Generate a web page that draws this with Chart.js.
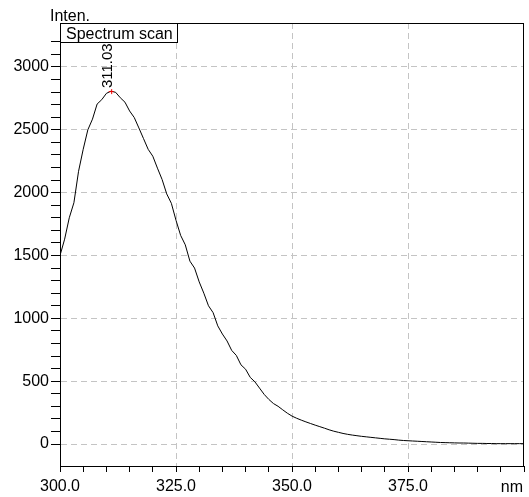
<!DOCTYPE html>
<html>
<head>
<meta charset="utf-8">
<script src="https://cdn.jsdelivr.net/npm/chart.js@4"></script>
<style>
  body { margin: 0; background: #fff; }
  canvas { display: block; }
</style>
</head>
<body>
<canvas id="myChart" width="529" height="497"></canvas>
<script>
// wavelength (nm) and intensity
let wavelengths = [];
for (let nm = 300; nm <= 400; nm++) wavelengths.push(nm);

let intensity = [
  1500, 1630, 1800, 1920, 2170, 2345, 2500, 2585, 2705, 2740,
  2790, 2808, 2798, 2755, 2720, 2650, 2598, 2515, 2430, 2345,
  2290, 2195, 2105, 1990, 1915, 1780, 1660, 1585, 1455, 1400,
  1290, 1200, 1100, 1045, 940, 875, 820, 745, 705, 630,
  595, 530, 495, 445, 395, 355, 322, 300, 272, 245,
  222, 205, 190, 176, 163, 150, 138, 126, 113, 102,
  93, 84, 77, 71, 66, 61, 57, 53, 49, 45,
  41, 38, 35, 31, 28, 26, 24, 22, 20, 18,
  16, 14, 12, 11, 10, 9, 8, 8, 7, 6,
  5, 5, 4, 4, 3, 3, 3, 3, 3, 3, 3
];

let seriesName = "Spectrum scan";
let peakNm = 311.03;
let peakValue = 2808;
let peakLabel = "311.03";
let xTitle = "nm";
let yTitle = "Inten.";

let points = [];
for (let i = 0; i < wavelengths.length; i++) {
    points.push({ x: wavelengths[i], y: intensity[i] });
}

const FAMILY = "'Liberation Sans', Arial, sans-serif";
Chart.defaults.font.family = FAMILY;
Chart.defaults.font.size = 16;
Chart.defaults.color = "#000";

// 테두리, 범례 상자, 피크 표시
const extras = {
    id: "extras",
    afterDraw(chart) {
        const ctx = chart.ctx;
        const a = chart.chartArea;
        const xs = chart.scales.x;
        const ys = chart.scales.y;
        ctx.save();
        ctx.strokeStyle = "#000";
        ctx.lineWidth = 1;
        ctx.strokeRect(Math.round(a.left) + 0.5, Math.round(a.top) + 0.5,
            Math.round(a.right - a.left) - 1, Math.round(a.bottom - a.top));

        // legend box
        ctx.font = "16px " + FAMILY;
        ctx.fillStyle = "#fff";
        ctx.fillRect(a.left, a.top, 118, 19);
        ctx.strokeRect(Math.round(a.left) + 0.5, Math.round(a.top) + 0.5, 117, 19);
        ctx.fillStyle = "#000";
        ctx.textBaseline = "alphabetic";
        ctx.textAlign = "left";
        ctx.fillText(seriesName, a.left + 6, a.top + 16);

        // axis titles
        ctx.fillText(yTitle, 50, 21);
        ctx.textAlign = "right";
        ctx.fillText(xTitle, 523, 492);

        // peak
        const px = xs.getPixelForValue(peakNm);
        const py = ys.getPixelForValue(peakValue);
        ctx.strokeStyle = "#e00";
        ctx.beginPath();
        ctx.moveTo(px - 2.5, py + 0.5); ctx.lineTo(px + 2.5, py + 0.5);
        ctx.moveTo(px + 0.5, py - 2); ctx.lineTo(px + 0.5, py + 3);
        ctx.stroke();
        ctx.font = "15px " + FAMILY;
        ctx.translate(px + 1, py - 3);
        ctx.rotate(-Math.PI / 2);
        ctx.textAlign = "left";
        ctx.fillStyle = "#000";
        ctx.fillText(peakLabel, 0, 0);
        ctx.restore();
    }
};

let config = {
    type: "line",
    data: {
        datasets: [{
            label: seriesName,
            data: points,
            borderColor: "#000",
            borderWidth: 1,
            pointRadius: 0,
            tension: 0,
            fill: false
        }]
    },
    options: {
        responsive: false,
        animation: false,
        devicePixelRatio: 1,
        layout: { padding: { top: 23, right: 5, left: 0, bottom: 0 } },
        plugins: { legend: { display: false }, tooltip: { enabled: false } },
        scales: {
            x: {
                type: "linear",
                min: 300,
                max: 400,
                afterFit: s => { s.height = 31; },
                ticks: {
                    stepSize: 5,
                    autoSkip: false,
                    maxRotation: 0,
                    padding: 5,
                    callback: v => (v % 25 === 0 && v < 400) ? v.toFixed(1) : ""
                },
                grid: {
                    color: c => (c.tick && c.tick.value % 25 === 0 && c.tick.value > 300 && c.tick.value < 400) ? "#c4c4c4" : "rgba(0,0,0,0)",
                    tickColor: c => (c.tick && c.tick.value % 5 === 0) ? "#000" : "rgba(0,0,0,0)",
                    tickLength: 6,
                    lineWidth: 1
                },
                border: { display: true, color: "#000", width: 1, dash: [6, 4] }
            },
            y: {
                min: -175,
                max: 3350,
                afterFit: s => { s.width = 60; },
                ticks: {
                    stepSize: 100,
                    autoSkip: false,
                    padding: 2,
                    callback: v => (v % 500 === 0) ? String(v) : ""
                },
                grid: {
                    color: c => (c.tick && c.tick.value % 500 === 0) ? "#c4c4c4" : "rgba(0,0,0,0)",
                    tickColor: c => (c.tick && c.tick.value % 100 === 0) ? "#000" : "rgba(0,0,0,0)",
                    tickLength: 9,
                    lineWidth: 1
                },
                border: { display: true, color: "#000", width: 1, dash: [6, 4] }
            }
        }
    },
    plugins: [extras]
};

new Chart(document.getElementById("myChart"), config);
</script>
</body>
</html>
